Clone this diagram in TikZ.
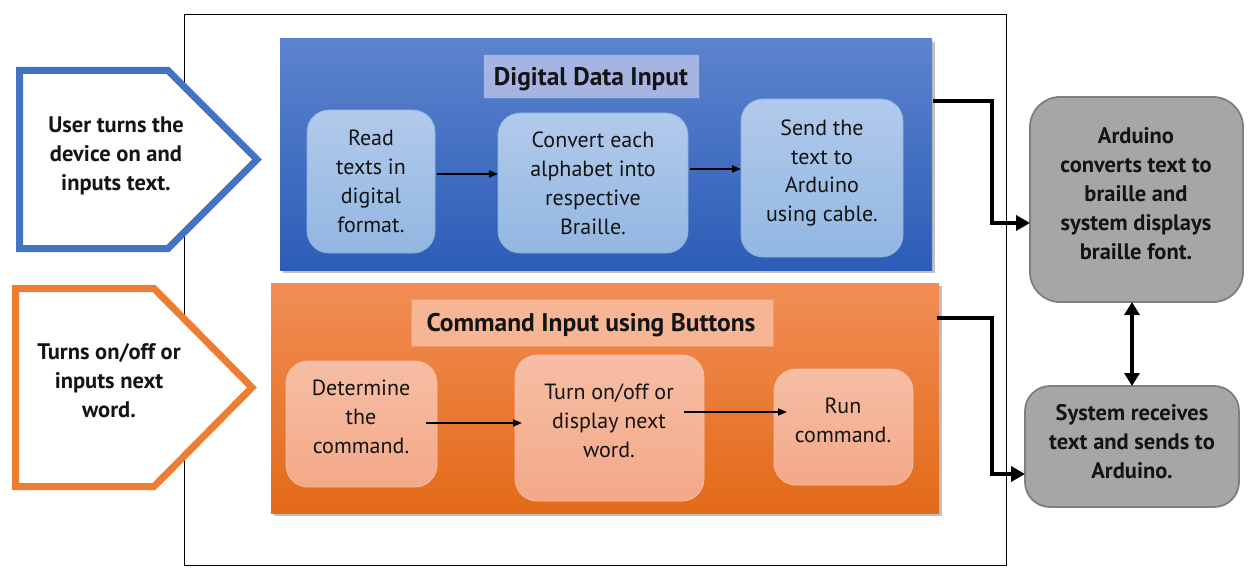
\documentclass[tikz,border=0pt]{standalone}
\usepackage{fontspec}
\setmainfont{PT Sans}
\usetikzlibrary{shadows,arrows.meta}
\definecolor{bpTop}{HTML}{5C83CD}
\definecolor{bpBot}{HTML}{2C5DB7}
\definecolor{bbTop}{HTML}{B2CAEB}
\definecolor{bbBot}{HTML}{92B7E2}
\definecolor{bbLine}{HTML}{8EB0E0}
\definecolor{btFill}{HTML}{A6B4E1}
\definecolor{btLine}{HTML}{5A86D2}
\definecolor{opTop}{HTML}{F18D55}
\definecolor{opBot}{HTML}{E36A18}
\definecolor{obTop}{HTML}{F6BEA5}
\definecolor{obBot}{HTML}{F4A888}
\definecolor{otFill}{HTML}{F6B696}
\definecolor{otLine}{HTML}{F09A68}
\definecolor{gFill}{HTML}{A6A6A6}
\definecolor{gLine}{HTML}{7F7F7F}
\definecolor{pBlue}{HTML}{4472C4}
\definecolor{pOrange}{HTML}{ED7D31}
\definecolor{ink}{HTML}{141414}
\begin{document}
\begin{tikzpicture}[x=1pt,y=-1pt,
  box/.style={anchor=north west,inner sep=0pt,outer sep=0pt},
  panel/.style={box,drop shadow={shadow xshift=2.5pt,shadow yshift=-3pt,opacity=0.45,fill=black!55}},
  bluebox/.style={box,rounded corners=22pt,top color=bbTop,bottom color=bbBot,draw=bbLine,line width=0.8pt},
  orangebox/.style={box,rounded corners=22pt,top color=obTop,bottom color=obBot,draw=obTop,line width=0.8pt},
  graybox/.style={box,rounded corners=30pt,fill=gFill,draw=gLine,line width=1.8pt},
  txt/.style={font=\fontsize{22}{29}\selectfont,align=center,text=ink,inner sep=0pt},
  btxt/.style={txt,font=\fontsize{22.5}{29}\selectfont\bfseries},
  ttl/.style={font=\fontsize{25.5}{29}\selectfont\bfseries,text=ink,inner sep=0pt,anchor=base},
  tarr/.style={line width=1.6pt,-{Triangle[length=9pt,width=7pt]}},
  conn/.style={line width=4.6pt,-{Triangle[length=14pt,width=15pt]}},
  dconn/.style={line width=4.6pt,{Triangle[length=13pt,width=15pt]}-{Triangle[length=13pt,width=15pt]}}
]
\useasboundingbox (0,0) rectangle (1256,583);
% frame
\node[box,draw=black,line width=1.5pt,minimum width=822,minimum height=551] (frame) at (184.5,14.5) {};
% pentagons
\draw[pBlue,line width=7pt,fill=white,line join=miter] (19.5,70.5) -- (168,70.5) -- (257,159.5) -- (168,248.5) -- (19.5,248.5) -- cycle;
\node[btxt] (user) at (116,156) {User turns the\\device on and\\inputs text.};
\draw[pOrange,line width=7pt,fill=white,line join=miter] (15.5,288.5) -- (154,288.5) -- (252,387.5) -- (154,486.5) -- (15.5,486.5) -- cycle;
\node[btxt] (turns) at (109,381) {Turns on/off or\\inputs next\\word.};
% blue panel
\node[panel,top color=bpTop,bottom color=bpBot,minimum width=652,minimum height=231] (bluep) at (280,39) {};
\node[box,fill=btFill,draw=btLine,line width=0.8pt,minimum width=216,minimum height=44] (btitle) at (483,54) {};
\node[ttl] (btitletxt) at (591,86) {Digital Data Input};
\node[bluebox,minimum width=128,minimum height=143] (read) at (307,110) {};
\node[txt] (readtxt) at (371,181) {Read\\texts in\\digital\\format.};
\node[bluebox,minimum width=190,minimum height=140] (conv) at (498,113) {};
\node[txt] (convtxt) at (593,183) {Convert each\\alphabet into\\respective\\Braille.};
\node[bluebox,minimum width=162,minimum height=158] (send) at (741,99) {};
\node[txt] (sendtxt) at (822,173) {Send the\\text to\\Arduino\\using cable.};
\draw[tarr] ([shift={(2,-7.5)}]read.east) -- ([yshift=7.5pt]read.east -| conv.west);
\draw[tarr] ([shift={(2,-14)}]conv.east) -- ([yshift=14pt]conv.east -| send.west);
% orange panel
\node[panel,top color=opTop,bottom color=opBot,minimum width=668,minimum height=230] (orangep) at (271,283) {};
\node[box,fill=otFill,draw=otLine,line width=0.8pt,minimum width=362,minimum height=47] (otitle) at (411,299) {};
\node[ttl] (otitletxt) at (591,331) {Command Input using Buttons};
\node[orangebox,minimum width=151,minimum height=126] (det) at (286,361) {};
\node[txt] (dettxt) at (361,417) {Determine\\the\\command.};
\node[orangebox,minimum width=189,minimum height=146] (turn) at (515,355) {};
\node[txt] (turntxt) at (609,421) {Turn on/off or\\display next\\word.};
\node[orangebox,minimum width=139,minimum height=116] (run) at (774,369) {};
\node[txt] (runtxt) at (843,420) {Run\\command.};
\draw[tarr] ([shift={(-11,-1)}]det.east) -- ([shift={(7,-1)}]det.east -| turn.west);
\draw[tarr] ([shift={(-20,-16)}]turn.east) -- ([shift={(13,-16)}]turn.east -| run.west);
% gray boxes
\node[graybox,minimum width=213,minimum height=205] (ard) at (1030,97) {};
\node[btxt] (ardtxt) at (1136,194) {Arduino\\converts text to\\braille and\\system displays\\braille font.};
\node[graybox,rounded corners=25pt,minimum width=214,minimum height=121] (sys) at (1025,386) {};
\node[btxt] (systxt) at (1132,442) {System receives\\text and sends to\\Arduino.};
% connectors
\draw[conn] ([shift={(1,62)}]bluep.north east) -- ++(59,0) |- ([yshift=-23.5pt]ard.west);
\draw[conn] ([shift={(-2,35)}]orangep.north east) -- ++(55,0) |- ([yshift=-27.5pt]sys.west);
\draw[dconn] (sys.north |- ard.south) -- (sys.north);
\end{tikzpicture}
\end{document}
